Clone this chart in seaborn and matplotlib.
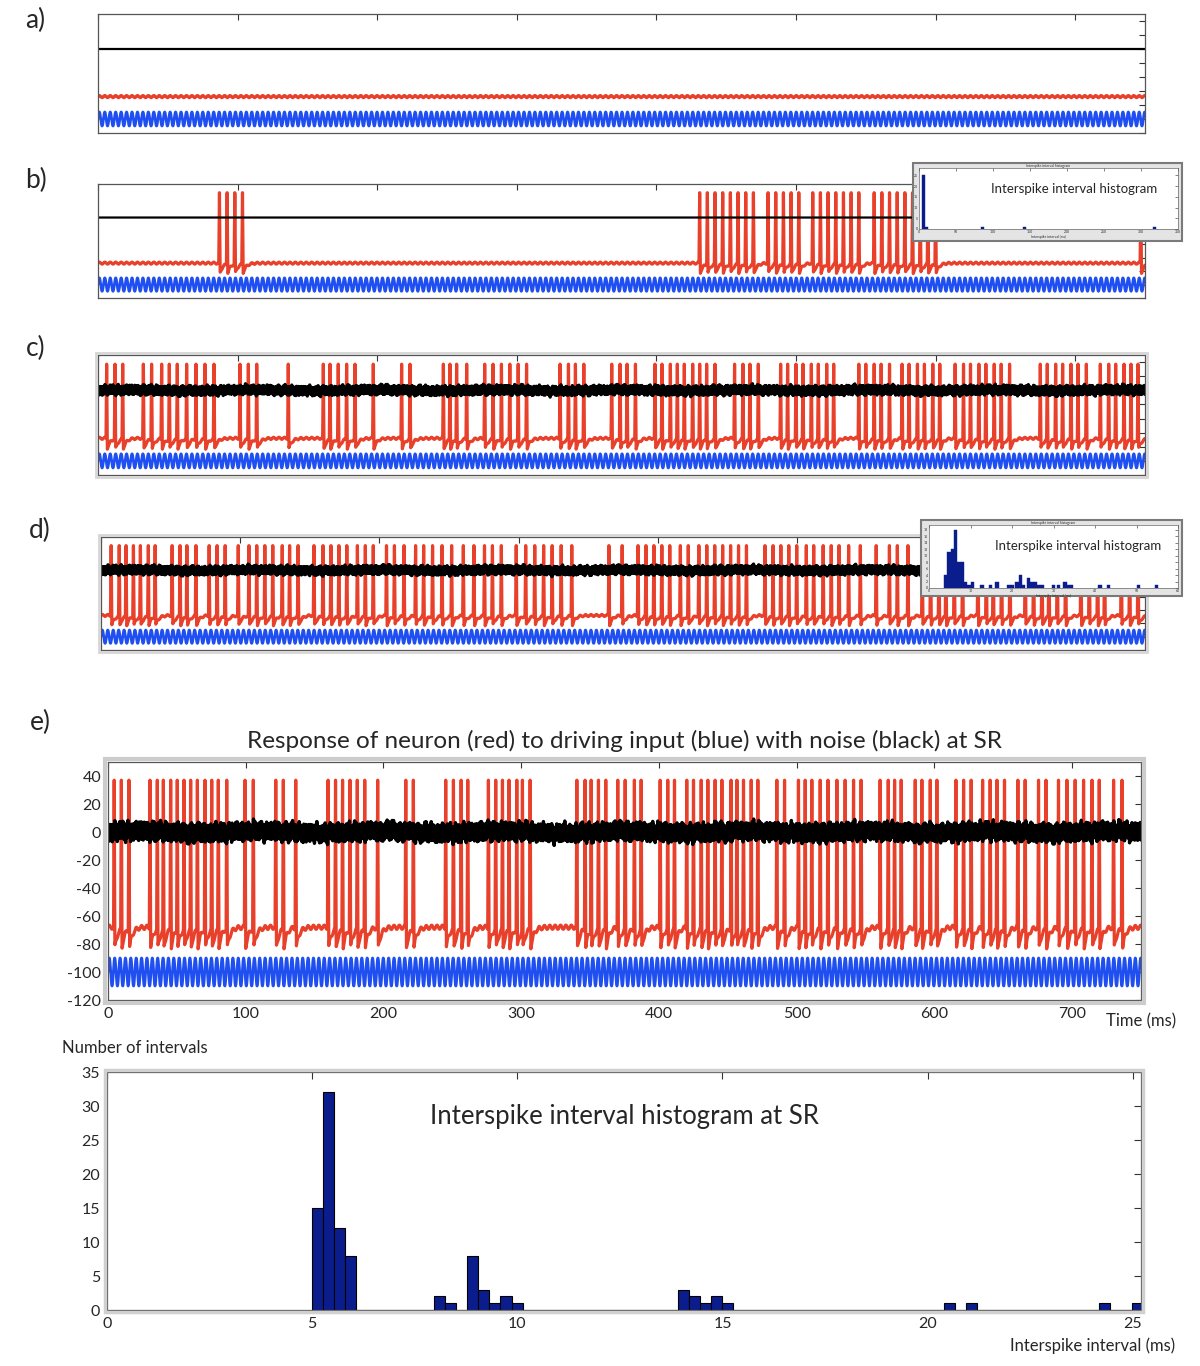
import numpy as np
import matplotlib
matplotlib.use("Agg")
import matplotlib.pyplot as plt
import seaborn as sns
from matplotlib.patches import Rectangle

W, H = 1200, 1366

# ---------------- data ---------------- #
TIME_MAX = 750            # ms shown in every trace panel
DRIVE_PERIOD = 3.9        # ms, blue driving input
DRIVE_MEAN, DRIVE_AMP = -100, 10
REST, PEAK, TROUGH = -68, 37, -82
NOISE_AMP = 7

SPIKES_A = []
SPIKES_B = [87, 92.5, 98, 103.5,
            431, 436.5, 442, 447.5, 453, 458.5, 464, 469.5, 480, 485.5, 491,
            496.5, 502, 512, 517.5, 523, 528.5, 534, 539.5, 545, 556, 561.5,
            567, 572.5, 578, 583.5, 589, 594.5, 600, 747]
SPIKES_C = [6.2, 12.2, 17.7, 32.5, 38.4, 45.6, 51.1, 56.8, 63.5, 70.2, 76.6,
            83.1, 101.7, 107.7, 113.7, 136.3, 161.4, 166.2, 172.1, 178.1, 184.1,
            197.2, 217.5, 223.5, 247.4, 252.1, 256.9, 264.1,
            277, 283, 289, 295, 301, 307, 331, 337, 342, 348, 368, 374, 379, 385,
            399, 404, 410, 415, 420, 426, 431, 436, 442, 456, 462, 467, 473,
            489, 494, 500, 505, 511, 516, 522, 527, 545, 550, 556, 561, 567,
            576, 581, 587, 592, 598, 603, 614, 620, 625, 631, 636, 642, 647, 653,
            675, 680, 686, 691, 697, 702, 708, 718, 724, 729, 735, 740, 745]
SPIKES_D = [7.3, 13.1, 18.0, 23.3, 28.3, 34.0, 38.9, 51.1, 56.8, 61.7, 68.2,
            77.7, 83.4, 89.2, 98.6, 106.3, 111.9, 117.7, 123.4, 130.2, 135.5,
            141.6, 153.0, 159.5, 165.2, 170.9, 176.6, 184.2, 189.9, 195.6, 205.1,
            210.8, 217.7, 226.0, 231.8, 238.2, 245.0, 251.9, 260.3, 267.9, 275.5,
            281.2, 287.6, 298.3, 305.1, 311.6, 318.0, 324.1, 330.6, 338.2, 364.9,
            374.4, 385.8, 391.5, 397.2, 402.9, 408.6, 416.2, 421.9, 429.5, 435.2,
            440.9, 446.6, 452.3, 458.0, 463.7, 477.0, 482.8, 488.4, 494.1, 499.8,
            506.7, 512.0, 518.8, 524.6, 530.2, 537.1, 545.5, 556.9, 566.4, 572.1,
            579.7, 590, 596, 602, 607, 613, 619, 630, 636, 641, 647, 653, 664,
            670, 676, 681, 687, 693, 704, 710, 716, 721, 733, 739, 745]
SPIKES_E = [4.5, 9.7, 15.2, 30.5, 35.8, 40.2, 45.5, 50.3, 55.2, 60.0, 64.9,
            70.4, 75.3, 80.1, 86.2, 99.5, 105.5, 121.8, 127.3, 136.3, 159.8,
            165.2, 170.3, 175.7, 181.0, 186.4, 195.8, 216.2, 221.7, 245.2, 250.8,
            256.4, 261.2, 276.2, 281.5, 286.4, 291.2, 296.8, 300.9, 306.5, 340.4,
            346.4, 350.8, 356.1, 361.4, 370.1, 375.5, 382.2, 387.1, 400.9, 406.4,
            411.3, 420.2, 425.1, 430.7, 435.5, 440.8, 445.7, 452.4, 456.6, 461.4,
            467.0, 471.8, 485.6, 491.2, 501.3, 506.2, 511.0, 517.1, 522.7, 529.2,
            535.2, 541.3, 546.8, 560.6, 566.5, 571.1, 575.9, 586.1, 590.9, 597.0,
            601.8, 615.6, 621.2, 626.7, 635.0, 640.5, 645.4, 650.9, 660.6, 665.9,
            675.6, 681.0, 690.1, 696.2, 702.2, 708.3, 714.4, 719.7, 730.1, 736.2]

# ISI histogram at SR (panel e, bottom)
ISI_BIN = 0.27
ISI_LEFT = [5.0, 5.27, 5.54, 5.81, 7.97, 8.24, 8.78, 9.05, 9.32, 9.59, 9.86,
            13.91, 14.18, 14.45, 14.72, 14.99, 20.39, 20.93, 24.17, 24.98]
ISI_COUNTS = [15, 32, 12, 8, 2, 1, 8, 3, 1, 2, 1, 3, 2, 1, 2, 1, 1, 1, 1, 1]

# small inset histograms in b) and d)
INSET_B_BIN = 4
INSET_B_LEFT = [4, 8, 84, 140, 316]
INSET_B_COUNTS = [25, 1, 1, 1, 1]
INSET_D_BIN = 0.8
INSET_D_LEFT = [3.6, 4.4, 5.2, 6.0, 6.8, 7.6, 8.4, 9.2, 10.0, 12.4, 14.4, 16.0,
                18.8, 19.6, 20.8, 21.6, 22.4, 23.6, 24.4, 25.2, 26.0, 26.8,
                29.6, 30.8, 32.4, 33.2, 34.0, 40.8, 42.8, 50.0, 54.4]
INSET_D_COUNTS = [4, 11, 12, 18, 8, 8, 2, 1, 2, 1, 1, 2, 1, 1, 2, 4, 1, 3, 2, 2,
                  1, 1, 1, 1, 2, 1, 1, 1, 1, 1, 1]

RED = "#e8402a"
BLUE = "#1f4ff0"
NAVY = "#0b1d8c"

T = np.arange(0, TIME_MAX, 0.05)


# ---------------- traces ---------------- #
def drive_trace():
    return DRIVE_MEAN + DRIVE_AMP * np.sin(2 * np.pi * T / DRIVE_PERIOD)


def noise_trace():
    # deterministic jitter texture for the noise band
    return NOISE_AMP * (0.40 * np.sin(T * 5.31) + 0.30 * np.sin(T * 11.73 + 0.4)
                        + 0.25 * np.sin(T * 23.91 + 1.3) + 0.20 * np.sin(T * 37.7 + 2.1)
                        + 0.10 * np.sin(T * 0.071) + 0.15 * np.sin(T * 1.37 + 0.5))


def neuron_trace(spikes):
    v = REST + 1.5 * np.sin(2 * np.pi * T / DRIVE_PERIOD)
    ahp = np.zeros_like(T)
    for ts in spikes:
        dt = T - ts
        m = dt >= 0.5
        ahp[m] = np.maximum(ahp[m], np.exp(-(dt[m] - 0.5) / 2.2))
    v = v - (REST - TROUGH) * ahp
    for ts in spikes:
        dt = T - ts
        up = (dt >= -0.45) & (dt < 0)
        v[up] = np.maximum(v[up], -60 + (PEAK + 60) * (dt[up] + 0.45) / 0.45)
        down = (dt >= 0) & (dt < 0.5)
        v[down] = PEAK + (TROUGH - PEAK) * dt[down] / 0.5
    return v


def add_ax(fig, x0, y0, x1, y1, **kw):
    return fig.add_axes([x0 / W, 1 - y1 / H, (x1 - x0) / W, (y1 - y0) / H], **kw)


def grey_frame(fig, x0, y0, x1, y1, pad=2, lw=2, color="#d6d6d6"):
    fig.patches.append(Rectangle(((x0 - pad) / W, 1 - (y1 + pad) / H),
                                 (x1 - x0 + 2 * pad) / W, (y1 - y0 + 2 * pad) / H,
                                 transform=fig.transFigure, fill=False,
                                 edgecolor=color, linewidth=lw, zorder=0.5))


def style_ax(ax, labels=False):
    ax.set_xlim(0, TIME_MAX)
    ax.set_ylim(-120, 50)
    ax.set_xticks(range(0, TIME_MAX + 1, 100))
    ax.set_yticks(range(-120, 41, 20))
    ax.tick_params(direction="in", top=True, right=True, length=4, width=0.8,
                   color="#333333", labelsize=11.5, pad=5)
    if not labels:
        ax.set_xticklabels([])
        ax.set_yticklabels([])
    for s in ax.spines.values():
        s.set_color("#555555")
        s.set_linewidth(0.9)
    ax.set_xlabel("")
    ax.set_ylabel("")


def draw_panel(ax, spikes, noisy, labels=False):
    sns.lineplot(x=T, y=drive_trace(), ax=ax, color=BLUE, linewidth=2.0,
                 estimator=None, sort=False)
    sns.lineplot(x=T, y=neuron_trace(spikes), ax=ax, color=RED, linewidth=2.3,
                 estimator=None, sort=False)
    if noisy:
        sns.lineplot(x=T, y=noise_trace(), ax=ax, color="black", linewidth=2.4,
                     estimator=None, sort=False)
    else:
        sns.lineplot(x=T, y=np.zeros_like(T), ax=ax, color="black", linewidth=1.6,
                     estimator=None, sort=False)
    style_ax(ax, labels)


def draw_inset(fig, box, inner, left, counts, width, xmax, xstep, ymax, ystep):
    x0, y0, x1, y1 = box
    fig.patches.append(Rectangle((x0 / W, 1 - y1 / H), (x1 - x0) / W, (y1 - y0) / H,
                                 transform=fig.transFigure, facecolor="#e4e4e4",
                                 edgecolor="#7a7a7a", linewidth=1.5, zorder=5))
    ax = add_ax(fig, *inner, zorder=6)
    ax.bar(left, counts, width=width, align="edge", color=NAVY, edgecolor=NAVY,
           linewidth=0.3)
    ax.set_xlim(0, xmax)
    ax.set_ylim(0, ymax)
    ax.set_xticks(np.arange(0, xmax + 0.01, xstep))
    ax.set_yticks(np.arange(0, ymax, ystep))
    ax.tick_params(direction="in", top=True, right=True, length=2, width=0.4,
                   labelsize=2.5, pad=1)
    for s in ax.spines.values():
        s.set_linewidth(0.5)
        s.set_color("#666666")
    ax.set_title("Interspike interval histogram", fontsize=2.5, pad=1)
    ax.set_xlabel("Interspike interval (ms)", fontsize=2.5, labelpad=0.5)
    ax.text(0.6, 0.66, "Interspike interval histogram", transform=ax.transAxes,
            ha="center", va="center", fontsize=9.5)
    return ax


# ---------------- figure ---------------- #
def main():
    sns.set_theme(style="white")
    plt.rcParams["font.family"] = ["Lato", "DejaVu Sans"]
    plt.rcParams["axes.unicode_minus"] = False

    fig = plt.figure(figsize=(W / 100, H / 100), dpi=100)

    ax_a = add_ax(fig, 98, 14, 1145, 133)
    draw_panel(ax_a, SPIKES_A, noisy=False)

    ax_b = add_ax(fig, 98, 184, 1145, 298)
    draw_panel(ax_b, SPIKES_B, noisy=False)

    ax_c = add_ax(fig, 98, 355, 1145, 475)
    draw_panel(ax_c, SPIKES_C, noisy=True)
    grey_frame(fig, 98, 355, 1145, 475)

    ax_d = add_ax(fig, 101, 537, 1145, 650)
    draw_panel(ax_d, SPIKES_D, noisy=True)
    grey_frame(fig, 101, 537, 1145, 650)

    ax_e = add_ax(fig, 108, 762, 1141, 1000)
    draw_panel(ax_e, SPIKES_E, noisy=True, labels=True)
    grey_frame(fig, 108, 762, 1141, 1000, pad=3, lw=3, color="#cccccc")
    ax_e.set_title("Response of neuron (red) to driving input (blue) with noise (black) at SR",
                   fontsize=17.5, pad=10)

    draw_inset(fig, (913, 163, 1182, 241), (919, 168, 1178, 229),
               INSET_B_LEFT, INSET_B_COUNTS, INSET_B_BIN, 350, 50, 28.5, 5)
    draw_inset(fig, (921, 520, 1182, 596), (929, 525, 1178, 588),
               INSET_D_LEFT, INSET_D_COUNTS, INSET_D_BIN, 60, 10, 19.5, 2)

    # interspike interval histogram at SR
    ax_h = add_ax(fig, 107, 1072, 1141, 1310)
    centers = np.array(ISI_LEFT) + ISI_BIN / 2
    sns.histplot(x=centers, weights=ISI_COUNTS, binwidth=ISI_BIN,
                 binrange=(5.0, 5.0 + 75 * ISI_BIN), color=NAVY, edgecolor="black",
                 linewidth=0.8, alpha=1, ax=ax_h)
    ax_h.set_xlim(0, 25.2)
    ax_h.set_ylim(0, 35)
    ax_h.set_xticks(range(0, 26, 5))
    ax_h.set_yticks(range(0, 36, 5))
    ax_h.tick_params(direction="in", top=True, right=True, length=5, width=0.8,
                     color="#333333", labelsize=11.5, pad=5)
    ax_h.set_xlabel("")
    ax_h.set_ylabel("")
    for s in ax_h.spines.values():
        s.set_color("#555555")
        s.set_linewidth(0.9)
    grey_frame(fig, 107, 1072, 1141, 1310, pad=2, lw=2.5, color="#d0d0d0")
    ax_h.text(12.6, 28.5, "Interspike interval histogram at SR", ha="center",
              va="center", fontsize=18.5)

    # labels
    fig.text(35 / W, 1 - 20 / H, "a)", fontsize=19, ha="center", va="center")
    fig.text(36 / W, 1 - 180 / H, "b)", fontsize=19, ha="center", va="center")
    fig.text(36 / W, 1 - 348 / H, "c)", fontsize=19, ha="center", va="center")
    fig.text(40 / W, 1 - 530 / H, "d)", fontsize=19, ha="center", va="center")
    fig.text(40 / W, 1 - 722 / H, "e)", fontsize=19, ha="center", va="center")
    fig.text(1141 / W, 1 - 1021 / H, "Time (ms)", fontsize=12, ha="center", va="center")
    fig.text(135 / W, 1 - 1048 / H, "Number of intervals", fontsize=12,
             ha="center", va="center")
    fig.text(1093 / W, 1 - 1346 / H, "Interspike interval (ms)", fontsize=12,
             ha="center", va="center")

    fig.savefig("out.png", dpi=100)
    plt.close(fig)


if __name__ == "__main__":
    main()
